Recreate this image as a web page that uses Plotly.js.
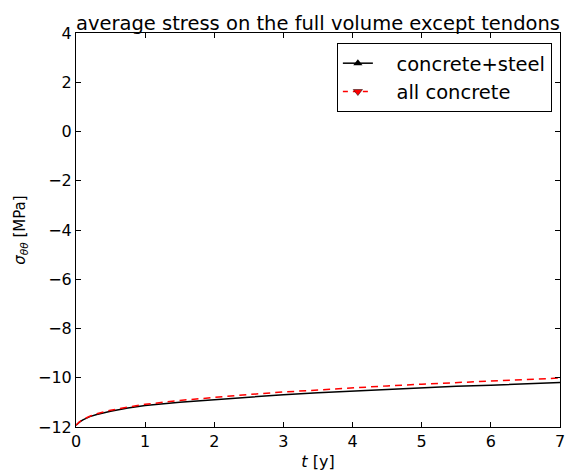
<!DOCTYPE html>
<html>
<head>
<meta charset="utf-8">
<script src="https://cdn.plot.ly/plotly-3.0.1.min.js"></script>
<style>html,body{margin:0;padding:0;background:#fff;}#chart{width:568px;height:472px;}</style>
</head>
<body>
<div id="chart"></div>
<script>
const tYears = [0, 0.02, 0.05, 0.1, 0.2, 0.3, 0.5, 0.75, 1, 1.5, 2, 2.5, 3, 3.5, 4, 4.5, 5, 5.5, 6, 6.5, 7];
const concreteSteel = [-11.93, -11.86, -11.80, -11.71, -11.58, -11.49, -11.36, -11.23, -11.13, -10.99, -10.88, -10.78, -10.69, -10.61, -10.54, -10.47, -10.41, -10.35, -10.30, -10.24, -10.19];
const allConcrete = [-11.93, -11.86, -11.79, -11.70, -11.56, -11.46, -11.32, -11.19, -11.08, -10.92, -10.79, -10.68, -10.58, -10.49, -10.41, -10.33, -10.26, -10.19, -10.12, -10.06, -10.01];
const seriesNames = ['concrete+steel', 'all concrete'];
const xTicks = [0, 1, 2, 3, 4, 5, 6, 7];
const yTicks = [4, 2, 0, -2, -4, -6, -8, -10, -12];

const pad = '\u00A0\u00A0\u00A0';
const font = 'DejaVu Sans, sans-serif';

const traces = [
  {x: tYears, y: concreteSteel, mode: 'lines', line: {color: 'black', width: 1.5}, showlegend: false, hoverinfo: 'skip'},
  {x: tYears, y: allConcrete, mode: 'lines', line: {color: 'red', width: 1.5, dash: '7px,5px'}, showlegend: false, hoverinfo: 'skip'},
  {x: [null], y: [null], mode: 'lines+markers', name: pad + seriesNames[0],
   line: {color: 'black', width: 1.5}, marker: {symbol: 'triangle-up', size: 8, color: 'black'}},
  {x: [null], y: [null], mode: 'lines+markers', name: pad + seriesNames[1],
   line: {color: 'red', width: 1.5, dash: '5px,5px'}, marker: {symbol: 'triangle-down', size: 8, color: 'red', line: {color: 'black', width: 0.5}}}
];

const axisCommon = {
  showgrid: false, zeroline: false, showline: true, linecolor: 'black', linewidth: 1,
  mirror: 'ticks', ticks: 'inside', ticklen: 5, tickwidth: 1, tickcolor: 'black',
  tickfont: {family: font, size: 16, color: 'black'}
};

const layout = {
  width: 568, height: 472,
  margin: {l: 76, r: 8, t: 33, b: 45},
  paper_bgcolor: 'white', plot_bgcolor: 'white',
  font: {family: font, color: 'black'},
  title: {text: 'average stress on the full volume except tendons', font: {family: font, size: 19.5, color: 'black'},
          x: 0.5, xref: 'paper', xanchor: 'center', y: 1, yref: 'paper', yanchor: 'bottom', pad: {b: 3}},
  xaxis: Object.assign({}, axisCommon, {range: [0, 7], tickvals: xTicks, ticktext: xTicks.map(String),
          title: {text: '<i>t</i> [y]', font: {family: font, size: 16, color: 'black'}, standoff: 5}}),
  yaxis: Object.assign({}, axisCommon, {range: [-12, 4], tickvals: yTicks,
          title: {text: '<i>σ</i><sub><i>θθ</i></sub> [MPa]', font: {family: font, size: 15, color: 'black'}, standoff: 8}}),
  legend: {x: 0.539, y: 0.9746, xanchor: 'left', yanchor: 'top', bordercolor: 'black', borderwidth: 1,
           bgcolor: 'white', font: {family: font, size: 19.5, color: 'black'}, tracegroupgap: 0}
};

Plotly.newPlot('chart', traces, layout, {displayModeBar: false, staticPlot: true});
</script>
</body>
</html>
